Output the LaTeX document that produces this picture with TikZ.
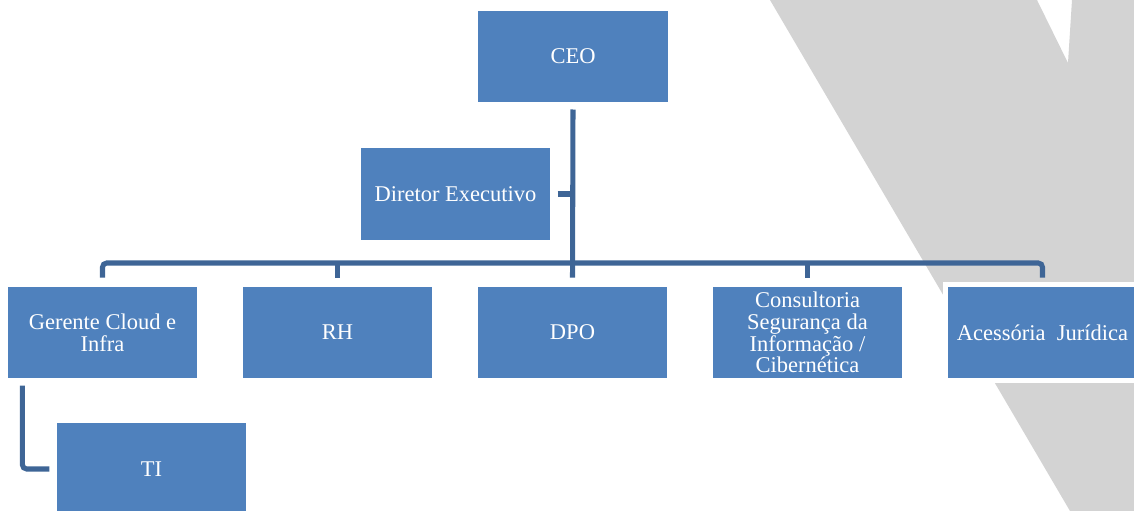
\documentclass[tikz,border=0pt]{standalone}
\usepackage{fontspec}
\setmainfont{Liberation Serif}
\usepackage{xcolor}
\usepackage{tikz}
\usetikzlibrary{positioning}
\definecolor{kasten}{RGB}{79,129,189}
\definecolor{linie}{RGB}{62,101,150}
\definecolor{wasser}{RGB}{211,211,211}

\begin{document}
\begin{tikzpicture}[x=0.025cm, y=-0.025cm,
  box/.style={rectangle, fill=kasten, draw=white, line width=3.5pt,
    minimum width=4.85cm, minimum height=2.4cm, inner sep=1pt,
    align=center, text=white, font=\fontsize{16}{15.5}\selectfont},
  conn/.style={linie, line width=3.6pt}]
  \useasboundingbox (0,0) rectangle (1134,511);
  \fill[wasser] (770,0) -- (1037,0) -- (1068,63) -- (1072,0) -- (1134,0)
    -- (1134,511) -- (1070,511) -- cycle;                 % Wasserzeichen
  \node[box] (ceo) at (573,56.5) {CEO};
  \node[box] (dir) at (455.5,194) {Diretor Executivo};
  \node[box] (ger) at (102.5,332.5) {Gerente Cloud e\\Infra};
  \node[box] (rh)  at (337.5,332.5) {RH};
  \node[box] (dpo) at (572.5,332.5) {DPO};
  \node[box] (cons) at (807.5,332.5) {Consultoria\\Segurança da\\Informação /\\Cibernética};
  \node[box] (acc) at (1042.5,332.5) {Acessória\ \ Jurídica};
  \node[box] (ti)  at (151.5,469) {TI};
  \coordinate (knoten) at (573,263);                     % Querbalken
  \draw[conn, shorten <=1.8pt, shorten >=3.2pt] (ceo.south) -- (dpo.north);
  \draw[conn, shorten <=1.8pt] (dir.east) -- (dir.east -| knoten);
  \draw[conn, rounded corners=3, shorten <=3.2pt, shorten >=3.2pt]
    (ger.north) |- (knoten) -| (acc.north);
  \draw[conn, shorten <=3.2pt] (rh.north) -- (rh.north |- knoten);
  \draw[conn, shorten <=3.2pt] (cons.north) -- (cons.north |- knoten);
  \draw[conn, rounded corners=3, shorten <=1.8pt, shorten >=1.8pt]
    ([xshift=13.8pt]ger.south west) |- (ti.west);        % zu TI
\end{tikzpicture}
\end{document}
